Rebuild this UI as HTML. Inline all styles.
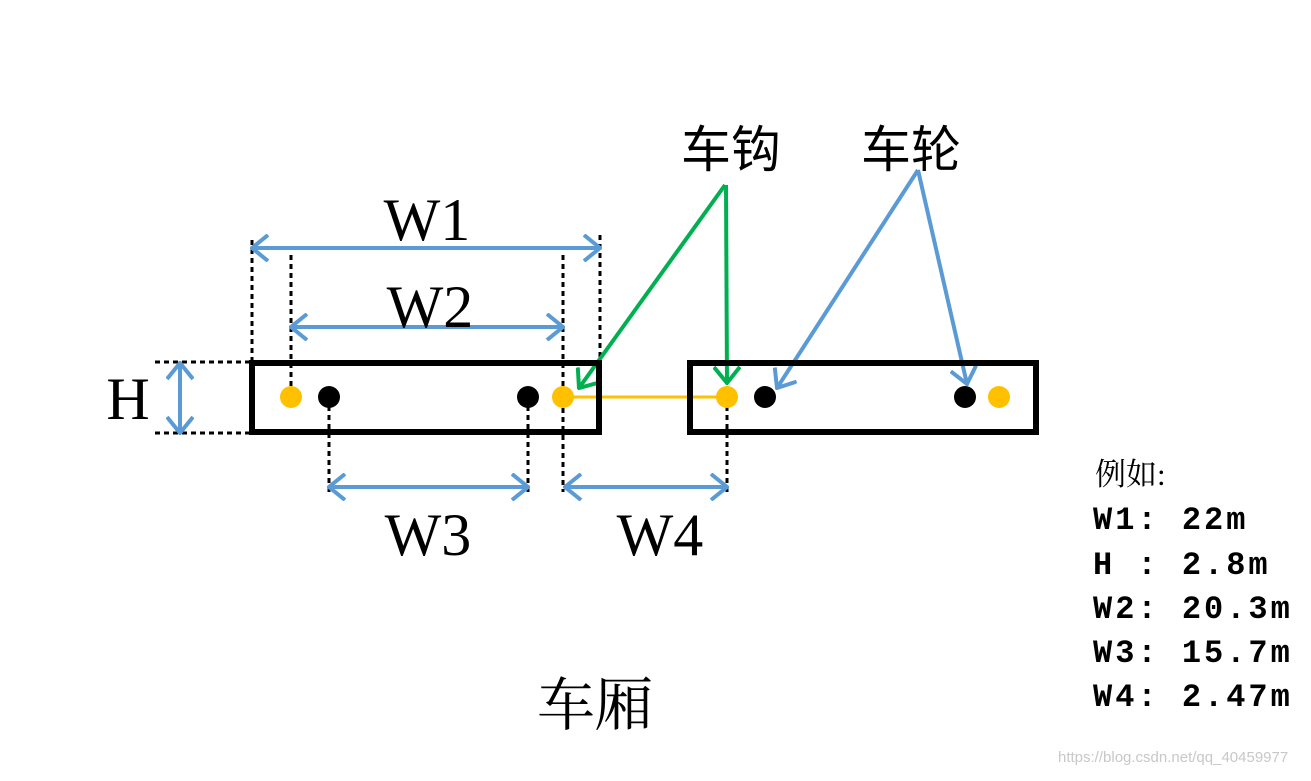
<!DOCTYPE html>
<html><head><meta charset="utf-8"><style>
html,body{margin:0;padding:0;background:#fff;}
</style></head><body>
<svg width="1311" height="776" xmlns="http://www.w3.org/2000/svg">
<defs>
<marker id="ab" viewBox="0 0 20 28" refX="18" refY="14" markerWidth="20" markerHeight="28" markerUnits="userSpaceOnUse" orient="auto-start-reverse"><path d="M2 1 L18 14 L2 27" fill="none" stroke="#5b9bd5" stroke-width="4"/></marker>
<marker id="ag" viewBox="0 0 20 28" refX="18" refY="14" markerWidth="20" markerHeight="28" markerUnits="userSpaceOnUse" orient="auto"><path d="M2 1 L18 14 L2 27" fill="none" stroke="#00b050" stroke-width="4"/></marker>
</defs>
<g stroke="#000" stroke-width="3" stroke-dasharray="5,4" fill="none">
<line x1="252" y1="240" x2="252" y2="361"/>
<line x1="600" y1="235" x2="600" y2="361"/>
<line x1="291" y1="255" x2="291" y2="397"/>
<line x1="563" y1="255" x2="563" y2="492"/>
<line x1="329" y1="397" x2="329" y2="495"/>
<line x1="528" y1="397" x2="528" y2="495"/>
<line x1="727" y1="397" x2="727" y2="495"/>
<line x1="155" y1="362" x2="250" y2="362"/>
<line x1="155" y1="433" x2="250" y2="433"/>
</g>
<g stroke="#5b9bd5" stroke-width="4" fill="none">
<line x1="252" y1="248" x2="600" y2="248" marker-start="url(#ab)" marker-end="url(#ab)"/>
<line x1="291" y1="327" x2="563" y2="327" marker-start="url(#ab)" marker-end="url(#ab)"/>
<line x1="329" y1="487" x2="528" y2="487" marker-start="url(#ab)" marker-end="url(#ab)"/>
<line x1="565" y1="487" x2="727" y2="487" marker-start="url(#ab)" marker-end="url(#ab)"/>
<line x1="180" y1="363" x2="180" y2="433" marker-start="url(#ab)" marker-end="url(#ab)"/>
<line x1="918" y1="170" x2="777" y2="388" marker-end="url(#ab)"/>
<line x1="918" y1="170" x2="967" y2="384" marker-end="url(#ab)"/>
</g>
<g stroke="#00b050" stroke-width="4" fill="none">
<line x1="725" y1="185" x2="579" y2="388" marker-end="url(#ag)"/>
<line x1="726" y1="185" x2="727" y2="383" marker-end="url(#ag)"/>
</g>
<line x1="563" y1="397" x2="727" y2="397" stroke="#ffc000" stroke-width="3"/>
<rect x="252" y="363" width="347" height="69" fill="none" stroke="#000" stroke-width="6"/>
<rect x="690" y="363" width="346" height="69" fill="none" stroke="#000" stroke-width="6"/>
<g fill="#ffc000"><circle cx="291" cy="397" r="11"/><circle cx="563" cy="397" r="11"/><circle cx="727" cy="397" r="11"/><circle cx="999" cy="397" r="11"/></g>
<g fill="#000"><circle cx="329" cy="397" r="11"/><circle cx="528" cy="397" r="11"/><circle cx="765" cy="397" r="11"/><circle cx="965" cy="397" r="11"/></g>
<g font-family="Liberation Serif, serif" font-size="60" fill="#000" text-anchor="middle">
<text x="427" y="240">W1</text>
<text x="430" y="327">W2</text>
<text x="428" y="555">W3</text>
<text x="660" y="555">W4</text>
<text x="128" y="419">H</text>
</g>
<g font-family="Liberation Sans, Noto Sans CJK SC, sans-serif" font-size="50" fill="#000" text-anchor="middle">
<text x="731" y="167">车钩</text>
<text x="911" y="167">车轮</text>
</g>
<text x="595" y="725" font-family="Liberation Serif, Noto Serif CJK SC, serif" font-size="58" text-anchor="middle">车厢</text>
<text x="1095" y="485" font-family="Liberation Serif, Noto Serif CJK SC, serif" font-size="31">例如:</text>
<g font-family="Liberation Mono, monospace" font-weight="bold" font-size="32" letter-spacing="3" fill="#000">
<text x="1093" y="529">W1: 22m</text>
<text x="1093" y="574">H : 2.8m</text>
<text x="1093" y="618">W2: 20.3m</text>
<text x="1093" y="662">W3: 15.7m</text>
<text x="1093" y="706">W4: 2.47m</text>
</g>
<text x="1058" y="762" font-family="Liberation Sans, sans-serif" font-size="15" fill="#c8c8c8">https://blog.csdn.net/qq_40459977</text>
</svg>
</body></html>
